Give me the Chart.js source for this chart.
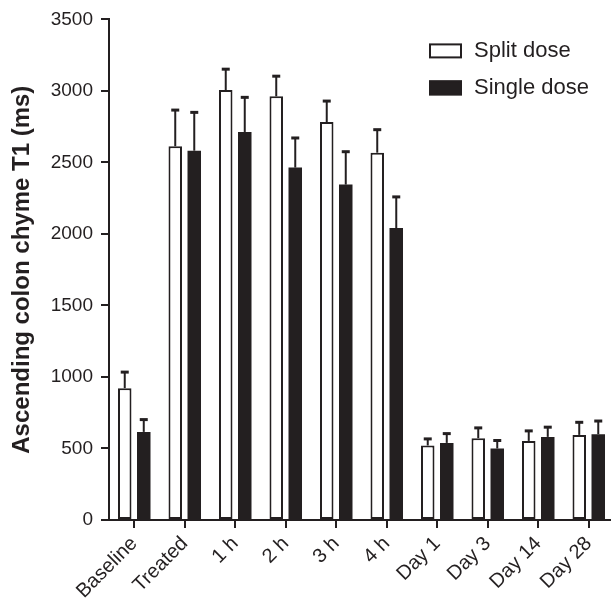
<!DOCTYPE html>
<html>
<head>
<meta charset="utf-8">
<script src="https://cdn.jsdelivr.net/npm/chart.js@4/dist/chart.umd.min.js"></script>
<style>
  html,body{margin:0;padding:0;background:#fff;overflow:hidden;}
  #wrap{width:614px;height:608px;}
</style>
</head>
<body>
<div id="wrap"><canvas id="c" width="614" height="608"></canvas></div>
<script>
const categories = ["Baseline","Treated","1 h","2 h","3 h","4 h","Day 1","Day 3","Day 14","Day 28"];
const splitMean  = [922, 2613, 3006, 2962, 2782, 2568, 521, 572, 553, 595];
const splitErr   = [1034, 2866, 3152, 3103, 2929, 2729, 567, 644, 623, 683];
const singleMean = [616, 2582, 2713, 2464, 2345, 2041, 539, 500, 581, 600];
const singleErr  = [702, 2850, 2955, 2671, 2575, 2259, 604, 556, 649, 692];
const yTicks     = [0, 500, 1000, 1500, 2000, 2500, 3000, 3500];

const ink = "#231f20";
Chart.defaults.font.family = "'Liberation Sans', Arial, sans-serif";
Chart.defaults.color = ink;

// upper whiskers only, like the original figure
const errorBars = {
  id: "errorBars",
  afterDatasetsDraw(chart){
    const ctx = chart.ctx;
    const y = chart.scales.y;
    ctx.save();
    ctx.strokeStyle = ink;
    chart.data.datasets.forEach((ds, i) => {
      const meta = chart.getDatasetMeta(i);
      meta.data.forEach((bar, j) => {
        const top = y.getPixelForValue(ds.upper[j]);
        ctx.lineWidth = 2;
        ctx.beginPath();
        ctx.moveTo(bar.x, bar.y);
        ctx.lineTo(bar.x, top);
        ctx.stroke();
        ctx.lineWidth = 3;
        ctx.beginPath();
        ctx.moveTo(bar.x - 4, top);
        ctx.lineTo(bar.x + 4, top);
        ctx.stroke();
      });
    });
    ctx.restore();
  }
};

const boxLegend = {
  id: "boxLegend",
  afterDraw(chart){
    const ctx = chart.ctx;
    const x0 = chart.chartArea.right - 185;
    const y0 = chart.chartArea.top + 24;
    ctx.save();
    ctx.font = "22px 'Liberation Sans', Arial, sans-serif";
    ctx.textBaseline = "middle";
    chart.data.datasets.forEach((ds, i) => {
      const yy = y0 + i * 37;
      ctx.fillStyle = ds.backgroundColor;
      ctx.fillRect(x0, yy, 33, 15);
      ctx.lineWidth = 2;
      ctx.strokeStyle = ink;
      ctx.strokeRect(x0 + 1, yy + 1, 31, 13);
      ctx.fillStyle = ink;
      ctx.fillText(ds.label, x0 + 45, yy + 8);
    });
    ctx.restore();
  }
};

new Chart(document.getElementById("c"), {
  type: "bar",
  data: {
    labels: categories,
    datasets: [
      { label: "Split dose", data: splitMean, upper: splitErr,
        backgroundColor: "#ffffff", borderColor: ink, borderWidth: 2, borderSkipped: false },
      { label: "Single dose", data: singleMean, upper: singleErr,
        backgroundColor: ink, borderColor: ink, borderWidth: 0, borderSkipped: false }
    ]
  },
  options: {
    responsive: false,
    animation: false,
    layout: { padding: { top: 18, right: 0, left: 0, bottom: 0 } },
    datasets: { bar: { categoryPercentage: 0.753, barPercentage: 0.71 } },
    plugins: { legend: { display: false }, tooltip: { enabled: false } },
    scales: {
      x: {
        grid: { display: true, drawOnChartArea: false, offset: false, tickLength: 8, color: ink, lineWidth: 2 },
        border: { display: true, color: ink, width: 2 },
        ticks: { font: { size: 20 }, color: ink, minRotation: 45, maxRotation: 45, padding: 4 },
        afterFit(s){ s.height = 88; s.paddingLeft = 0; s.paddingRight = 0; }
      },
      y: {
        min: 0, max: 3500,
        afterBuildTicks(s){ s.ticks = yTicks.map(v => ({ value: v })); },
        grid: { display: true, drawOnChartArea: false, tickLength: 8, color: ink, lineWidth: 2 },
        border: { display: true, color: ink, width: 2 },
        ticks: { font: { size: 19 }, color: ink, padding: 8, callback: v => String(v) },
        title: { display: true, text: "Ascending colon chyme T1 (ms)", color: ink,
                 font: { size: 24, weight: "bold" }, padding: { top: 8, bottom: 0 } },
        afterFit(s){ s.width = 109; }
      }
    }
  },
  plugins: [errorBars, boxLegend]
});
</script>
</body>
</html>
